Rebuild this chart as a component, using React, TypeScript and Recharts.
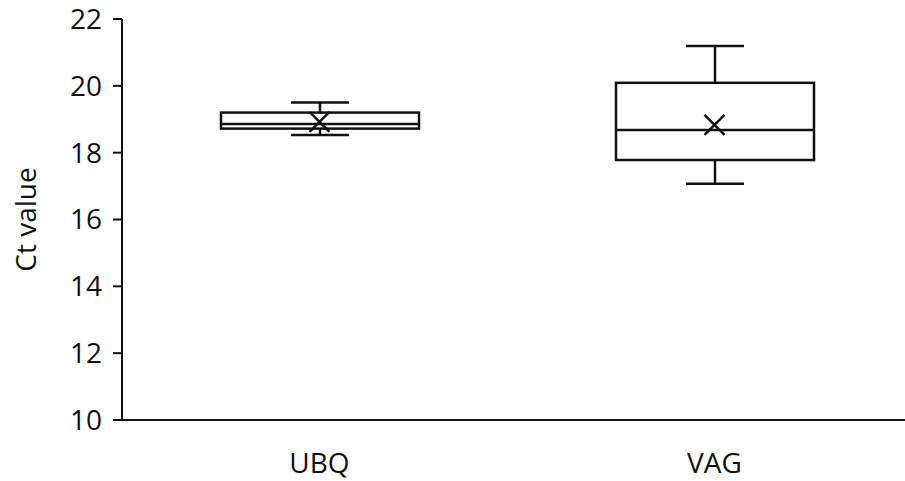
import React from 'react'
import { ComposedChart, Bar, Scatter, XAxis, YAxis } from 'recharts'

// box plot stats
const categories = ['UBQ', 'VAG']
const minValues = [18.53, 17.07]
const q1Values = [18.72, 17.78]
const medianValues = [18.86, 18.68]
const q3Values = [19.2, 20.09]
const maxValues = [19.5, 21.19]
const meanValues = [18.92, 18.83]
const yTicks = [10, 12, 14, 16, 18, 20, 22]

interface Row {
  name: string
  min: number
  q1: number
  median: number
  q3: number
  max: number
  mean: number
  range: [number, number]
}

const data: Row[] = categories.map((name, i) => ({
  name,
  min: minValues[i],
  q1: q1Values[i],
  median: medianValues[i],
  q3: q3Values[i],
  max: maxValues[i],
  mean: meanValues[i],
  range: [minValues[i], maxValues[i]],
}))

const font = '"Open Sans", sans-serif'
const ink = '#111'
const fontSize = 28

// the bar spans min..max, so inner values are placed by the same scale
function BoxShape(props: any) {
  const { x, y, width, height, payload } = props
  if (height == null || !payload) return null
  const row: Row = payload
  const py = (v: number) => y + (height * (row.max - v)) / (row.max - row.min)
  const cx = x + width / 2
  const cap = 29
  return (
    <g stroke={ink} strokeWidth={2.5} fill="none">
      <line x1={cx} x2={cx} y1={py(row.max)} y2={py(row.q3)} />
      <line x1={cx} x2={cx} y1={py(row.q1)} y2={py(row.min)} />
      <line x1={cx - cap} x2={cx + cap} y1={py(row.max)} y2={py(row.max)} />
      <line x1={cx - cap} x2={cx + cap} y1={py(row.min)} y2={py(row.min)} />
      <rect x={x} y={py(row.q3)} width={width} height={py(row.q1) - py(row.q3)} fill="#fff" />
      <line x1={x} x2={x + width} y1={py(row.median)} y2={py(row.median)} />
    </g>
  )
}

function MeanMark(props: any) {
  const { cx, cy } = props
  if (cx == null || cy == null) return null
  const s = 10
  return (
    <g stroke={ink} strokeWidth={2.5}>
      <line x1={cx - s} y1={cy - s} x2={cx + s} y2={cy + s} />
      <line x1={cx - s} y1={cy + s} x2={cx + s} y2={cy - s} />
    </g>
  )
}

function YLabel(props: any) {
  const { viewBox } = props
  const cy = viewBox.y + viewBox.height / 2
  const x = 25
  return (
    <text
      x={x}
      y={cy}
      transform={`rotate(-90, ${x}, ${cy})`}
      textAnchor="middle"
      dominantBaseline="central"
      fontSize={fontSize}
      fontFamily={font}
      fill={ink}
    >
      Ct value
    </text>
  )
}

export default function App() {
  return (
    <div
      style={{
        position: 'absolute',
        left: 0,
        top: 0,
        width: 905,
        height: 481,
        overflow: 'hidden',
        background: '#fff',
      }}
    >
      <ComposedChart
        width={928}
        height={481}
        data={data}
        margin={{ top: 19, right: 16, bottom: 0, left: 8 }}
      >
        {/* boundary ticks between categories, Excel style */}
        <XAxis
          xAxisId="edges"
          type="number"
          domain={[0, 2]}
          ticks={[0, 1, 2]}
          height={0}
          tick={false}
          tickSize={8}
          axisLine={false}
          tickLine={{ stroke: ink, strokeWidth: 2 }}
        />
        <XAxis
          dataKey="name"
          height={61}
          axisLine={{ stroke: ink, strokeWidth: 2 }}
          tickLine={false}
          tickSize={0}
          tickMargin={33}
          tick={{ fill: ink, fontSize, fontFamily: font }}
        />
        <YAxis
          domain={[10, 22]}
          ticks={yTicks}
          width={114}
          tickSize={9}
          tickMargin={11}
          axisLine={{ stroke: ink, strokeWidth: 2 }}
          tickLine={{ stroke: ink, strokeWidth: 2 }}
          tick={{ fill: ink, fontSize, fontFamily: font }}
          label={{ content: <YLabel /> }}
        />
        <Bar dataKey="range" barSize={198} shape={<BoxShape />} isAnimationActive={false} />
        <Scatter dataKey="mean" shape={<MeanMark />} isAnimationActive={false} />
      </ComposedChart>
    </div>
  )
}
